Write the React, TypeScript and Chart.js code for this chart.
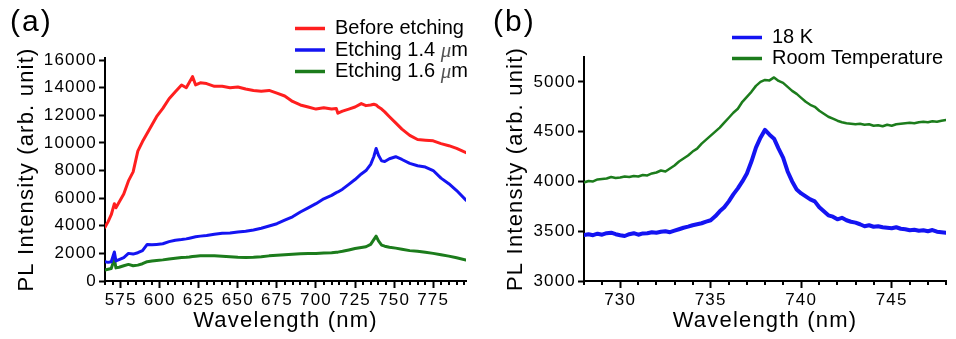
import React, { useEffect, useRef } from 'react';
import { Chart, registerables } from 'chart.js';

Chart.register(...registerables);

const FONT = "'Liberation Sans', Arial, Helvetica, sans-serif";

// ---- Panel (a): PL spectra before / after etching ----
const wavelengthsA = [
  565, 567, 569, 571, 572, 574, 577, 580, 583, 586, 589, 592, 595, 598, 602, 606,
  610, 614, 617, 619, 621, 623, 626, 630, 635, 640, 645, 650, 655, 660, 665, 670,
  675, 680, 685, 690, 695, 700, 705, 710, 713, 714, 717, 721, 725, 729, 732, 735,
  737, 738.5, 740, 742, 744, 747, 751, 755, 760, 765, 770, 775, 780, 785, 790, 796,
];
const beforeEtching = [
  3900, 4300, 4800, 5600, 5300, 5700, 6300, 7250, 7900, 9400, 10100, 10700, 11300, 11900, 12500, 13200,
  13700, 14200, 14000, 14400, 14800, 14200, 14350, 14300, 14100, 14100, 14000, 14050, 13900, 13800, 13750, 13800,
  13600, 13400, 13000, 12750, 12600, 12450, 12550, 12450, 12500, 12150, 12300, 12450, 12600, 12850, 12700, 12750,
  12800, 12750, 12600, 12450, 12250, 11900, 11450, 11000, 10550, 10250, 10200, 10150, 9950, 9800, 9600, 9300,
];
const etching14 = [
  1400, 1350, 1400, 2100, 1450, 1550, 1700, 2000, 1950, 2050, 2200, 2650, 2620, 2650, 2700, 2850,
  2950, 3000, 3050, 3100, 3150, 3200, 3250, 3300, 3380, 3450, 3480, 3550, 3600, 3700, 3820, 3980,
  4150, 4400, 4650, 5000, 5300, 5600, 5950, 6200, 6400, 6450, 6650, 7000, 7350, 7750, 8000, 8450,
  9000, 9600, 9100, 8700, 8650, 8850, 9000, 8800, 8520, 8350, 8250, 8000, 7450, 7050, 6550, 5850,
];
const etching16 = [
  800, 850, 900, 1600, 950, 1000, 1100, 1200, 1100, 1150, 1250, 1400, 1450, 1480, 1530, 1600,
  1650, 1700, 1720, 1740, 1780, 1800, 1820, 1830, 1820, 1800, 1760, 1720, 1710, 1720, 1760, 1820,
  1860, 1900, 1940, 1980, 2000, 1990, 2020, 2050, 2080, 2090, 2150, 2250, 2350, 2420, 2480, 2650,
  3000, 3250, 2900, 2600, 2520, 2450, 2380, 2300, 2200, 2150, 2080, 2000, 1900, 1800, 1680, 1520,
];
const xTicksA = [575, 600, 625, 650, 675, 700, 725, 750, 775];
const yTicksA = [0, 2000, 4000, 6000, 8000, 10000, 12000, 14000, 16000];

// ---- Panel (b): 18 K vs room temperature ----
const wavelengthsB = [
  728.0, 728.25, 728.5, 728.75, 729.0, 729.25, 729.5, 729.75, 730.0, 730.25, 730.5, 730.75,
  731.0, 731.25, 731.5, 731.75, 732.0, 732.25, 732.5, 732.75, 733.0, 733.25, 733.5, 733.75,
  734.0, 734.25, 734.5, 734.75, 735.0, 735.25, 735.5, 735.75, 736.0, 736.25, 736.5, 736.75,
  737.0, 737.25, 737.5, 737.75, 738.0, 738.25, 738.5, 738.75, 739.0, 739.25, 739.5, 739.75,
  740.0, 740.25, 740.5, 740.75, 741.0, 741.25, 741.5, 741.75, 742.0, 742.25, 742.5, 742.75,
  743.0, 743.25, 743.5, 743.75, 744.0, 744.25, 744.5, 744.75, 745.0, 745.25, 745.5, 745.75,
  746.0, 746.25, 746.5, 746.75, 747.0, 747.25, 747.5, 747.75, 748.0,
];
const lowTemp = [
  3462, 3470, 3460, 3475, 3465, 3480, 3485, 3470, 3460, 3452, 3470, 3480,
  3465, 3478, 3480, 3490, 3485, 3495, 3500, 3490, 3505, 3520, 3535, 3546,
  3560, 3570, 3580, 3596, 3610, 3650, 3700, 3740, 3800, 3870, 3930, 4000,
  4080, 4200, 4340, 4440, 4518, 4470, 4430, 4330, 4240, 4100, 4000, 3920,
  3880, 3850, 3820, 3800, 3740, 3700, 3660, 3646, 3620, 3635, 3610, 3595,
  3586, 3570, 3550, 3560, 3545, 3550, 3540, 3535, 3530, 3540, 3525, 3520,
  3510, 3515, 3505, 3510, 3500, 3512, 3495, 3490, 3485,
];
const roomTemp = [
  3990, 4005, 4000, 4020, 4025, 4030, 4045, 4035, 4040, 4050, 4045, 4055,
  4050, 4065, 4060, 4080, 4090, 4110, 4100, 4130, 4160, 4200, 4230, 4260,
  4300, 4330, 4380, 4420, 4460, 4500, 4540, 4590, 4640, 4690, 4730, 4800,
  4850, 4900, 4960, 5000, 5020, 5015, 5045, 5010, 4990, 4950, 4910, 4880,
  4840, 4800, 4770, 4750, 4710, 4680, 4650, 4630, 4610, 4595, 4585, 4580,
  4575, 4580, 4570, 4575, 4560, 4565, 4555, 4570, 4560, 4575, 4580, 4585,
  4590, 4585, 4595, 4600, 4595, 4605, 4600, 4610, 4618,
];
const xTicksB = [730, 735, 740, 745];
const yTicksB = [3000, 3500, 4000, 4500, 5000];

const RED = '#ff1f1f';
const BLUE = '#1414f2';
const GREEN = '#1c7c1c';

type Series = { label: string; color: string; width: number; values: number[] };

type PanelSpec = {
  tag: string;
  xs: number[];
  series: Series[];
  xMin: number;
  xMax: number;
  xTicks: number[];
  xMinor: number;
  yMin: number;
  yMax: number;
  yTicks: number[];
  axisWidth: number;
  padTop: number;
  padRight: number;
  yTitlePad: number;
  tagX: number;
  tagY: number;
  legendX: number;
  legendY: number;
  legendDy: number;
};

const panelA: PanelSpec = {
  tag: '(a)',
  xs: wavelengthsA,
  series: [
    { label: 'Before etching', color: RED, width: 3, values: beforeEtching },
    { label: 'Etching 1.4 μm', color: BLUE, width: 3, values: etching14 },
    { label: 'Etching 1.6 μm', color: GREEN, width: 3, values: etching16 },
  ],
  xMin: 565,
  xMax: 796,
  xTicks: xTicksA,
  xMinor: 5,
  yMin: 0,
  yMax: 16150,
  yTicks: yTicksA,
  axisWidth: 105,
  padTop: 58,
  padRight: 12,
  yTitlePad: 14,
  tagX: 10,
  tagY: 31,
  legendX: 295,
  legendY: 28.5,
  legendDy: 21.5,
};

const panelB: PanelSpec = {
  tag: '(b)',
  xs: wavelengthsB,
  series: [
    { label: '18 K', color: BLUE, width: 4, values: lowTemp },
    { label: 'Room Temperature', color: GREEN, width: 2.5, values: roomTemp },
  ],
  xMin: 728,
  xMax: 748,
  xTicks: xTicksB,
  xMinor: 1,
  yMin: 3000,
  yMax: 5250,
  yTicks: yTicksB,
  axisWidth: 106,
  padTop: 57,
  padRight: 10,
  yTitlePad: 25,
  tagX: 15,
  tagY: 31,
  legendX: 254,
  legendY: 37.5,
  legendDy: 21,
};

// Slightly spaced lettering for axis text.
const spacingPlugin = {
  id: 'letterSpacing',
  beforeUpdate(chart: any) {
    chart.ctx.letterSpacing = '1.2px';
  },
  beforeDraw(chart: any) {
    chart.ctx.letterSpacing = '1.2px';
  },
};

// Short unlabeled ticks between the labeled ones on the wavelength axis.
function minorTickPlugin(spec: PanelSpec) {
  return {
    id: 'minorTicks',
    afterDraw(chart: any) {
      const sx = chart.scales.x;
      const ctx = chart.ctx as CanvasRenderingContext2D;
      const bottom = chart.chartArea.bottom;
      const start = Math.ceil(spec.xMin / spec.xMinor);
      const end = Math.floor(spec.xMax / spec.xMinor);
      ctx.save();
      ctx.strokeStyle = '#000';
      ctx.lineWidth = 2;
      ctx.beginPath();
      for (let k = start; k <= end; k++) {
        const v = k * spec.xMinor;
        if (spec.xTicks.includes(v)) continue;
        const px = Math.round(sx.getPixelForValue(v));
        ctx.moveTo(px, bottom);
        ctx.lineTo(px, bottom + 4);
      }
      ctx.stroke();
      ctx.restore();
    },
  };
}

// Panel tag and the line legend.
function annotationPlugin(spec: PanelSpec) {
  return {
    id: 'panelAnnotations',
    afterDraw(chart: any) {
      const ctx = chart.ctx as any;
      ctx.save();
      ctx.fillStyle = '#000';
      ctx.textAlign = 'left';
      ctx.textBaseline = 'alphabetic';
      ctx.letterSpacing = '2px';
      ctx.font = `30px ${FONT}`;
      ctx.fillText(spec.tag, spec.tagX, spec.tagY);

      ctx.letterSpacing = '0px';
      ctx.textBaseline = 'middle';
      chart.data.datasets.forEach((ds: any, i: number) => {
        const y = spec.legendY + i * spec.legendDy;
        ctx.strokeStyle = ds.borderColor;
        ctx.lineWidth = 3.5;
        ctx.beginPath();
        ctx.moveTo(spec.legendX, y);
        ctx.lineTo(spec.legendX + 30, y);
        ctx.stroke();

        let x = spec.legendX + 40;
        const parts = String(ds.label).split('μ');
        ctx.fillStyle = '#000';
        ctx.font = `20px ${FONT}`;
        ctx.fillText(parts[0], x, y);
        if (parts.length > 1) {
          x += ctx.measureText(parts[0]).width;
          ctx.font = `italic 21px 'Liberation Serif', 'DejaVu Serif', serif`;
          ctx.fillStyle = '#555';
          ctx.fillText('μ', x, y + 1);
          x += ctx.measureText('μ').width;
          ctx.fillStyle = '#000';
          ctx.font = `20px ${FONT}`;
          ctx.fillText(parts[1], x, y);
        }
      });
      ctx.restore();
    },
  };
}

function buildChart(canvas: HTMLCanvasElement, spec: PanelSpec) {
  const tickFont = { family: FONT, size: 17 };
  const titleFont = { family: FONT, size: 22 };
  const plain = (v: number | string) => String(v);
  return new Chart(canvas, {
    type: 'line',
    data: {
      datasets: spec.series.map((s) => ({
        label: s.label,
        data: spec.xs.map((x, i) => ({ x, y: s.values[i] })),
        borderColor: s.color,
        backgroundColor: s.color,
        borderWidth: s.width,
        pointRadius: 0,
        tension: 0,
        fill: false,
        borderJoinStyle: 'round' as const,
        borderCapStyle: 'round' as const,
      })),
    },
    options: {
      responsive: false,
      animation: false,
      devicePixelRatio: 1,
      layout: { padding: { left: 0, right: spec.padRight, top: spec.padTop, bottom: 0 } },
      plugins: {
        legend: { display: false },
        tooltip: { enabled: false },
        title: { display: false },
      },
      scales: {
        x: {
          type: 'linear',
          bounds: 'data',
          min: spec.xMin,
          max: spec.xMax,
          afterBuildTicks: (s: any) => {
            s.ticks = spec.xTicks.map((value) => ({ value }));
          },
          afterFit: (s: any) => {
            s.height = 58;
          },
          ticks: {
            autoSkip: false,
            maxRotation: 0,
            padding: 2,
            color: '#000',
            font: tickFont,
            callback: plain,
          },
          grid: {
            drawOnChartArea: false,
            drawTicks: true,
            tickLength: 7,
            tickWidth: 2,
            tickColor: '#000',
          },
          border: { display: true, color: '#000', width: 2 },
          title: {
            display: true,
            text: 'Wavelength (nm)',
            color: '#000',
            font: titleFont,
            padding: { top: 0, bottom: 5 },
          },
        },
        y: {
          type: 'linear',
          bounds: 'data',
          min: spec.yMin,
          max: spec.yMax,
          afterBuildTicks: (s: any) => {
            s.ticks = spec.yTicks.map((value) => ({ value }));
          },
          afterFit: (s: any) => {
            s.width = spec.axisWidth;
          },
          ticks: {
            autoSkip: false,
            padding: 2,
            color: '#000',
            font: tickFont,
            callback: plain,
          },
          grid: {
            drawOnChartArea: false,
            drawTicks: true,
            tickLength: 6,
            tickWidth: 2,
            tickColor: '#000',
          },
          border: { display: true, color: '#000', width: 2 },
          title: {
            display: true,
            text: 'PL Intensity (arb. unit)',
            color: '#000',
            font: titleFont,
            padding: { top: spec.yTitlePad, bottom: 0 },
          },
        },
      },
    } as any,
    plugins: [spacingPlugin, minorTickPlugin(spec), annotationPlugin(spec)],
  });
}

function Panel({ spec, left }: { spec: PanelSpec; left: number }) {
  const ref = useRef<HTMLCanvasElement>(null);
  useEffect(() => {
    if (!ref.current) return;
    const chart = buildChart(ref.current, spec);
    return () => chart.destroy();
  }, [spec]);
  return (
    <canvas
      ref={ref}
      width={478}
      height={339}
      style={{ position: 'absolute', left, top: 0, width: 478, height: 339 }}
    />
  );
}

export default function App() {
  return (
    <div
      style={{
        position: 'absolute',
        left: 0,
        top: 0,
        width: 956,
        height: 339,
        background: '#fff',
        overflow: 'hidden',
      }}
    >
      <Panel spec={panelA} left={0} />
      <Panel spec={panelB} left={478} />
    </div>
  );
}
